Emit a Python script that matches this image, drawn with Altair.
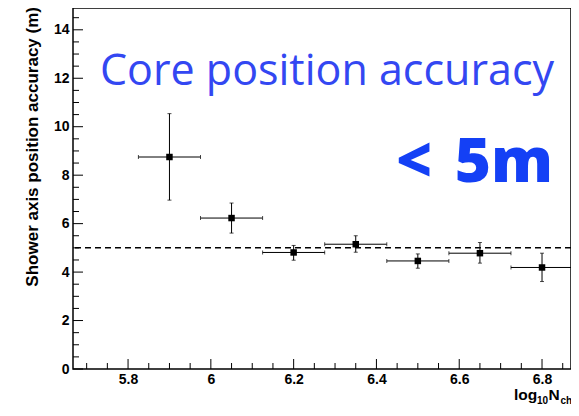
import altair as alt
import pandas as pd

# ---- data ----
log_nch = [5.9, 6.05, 6.2, 6.35, 6.5, 6.65, 6.8]
accuracy = [8.75, 6.23, 4.81, 5.15, 4.46, 4.78, 4.19]
acc_hi = [10.54, 6.85, 5.10, 5.50, 4.75, 5.22, 4.78]
acc_lo = [6.97, 5.61, 4.49, 4.82, 4.16, 4.37, 3.61]
bin_half = [0.075, 0.075, 0.075, 0.075, 0.075, 0.075, 0.075]
limit_value = [5.0]

x_major = [5.8, 6.0, 6.2, 6.4, 6.6, 6.8]
x_minor = [5.70, 5.75, 5.85, 5.90, 5.95, 6.05, 6.10, 6.15, 6.25, 6.30, 6.35,
           6.45, 6.50, 6.55, 6.65, 6.70, 6.75, 6.85]
y_major = [0, 2, 4, 6, 8, 10, 12, 14]
y_minor = [0.5, 1, 1.5, 2.5, 3, 3.5, 4.5, 5, 5.5, 6.5, 7, 7.5, 8.5, 9, 9.5,
           10.5, 11, 11.5, 12.5, 13, 13.5, 14.5]

W, H = 498, 361
XDOM = [5.667, 6.870]
YDOM = [0, 14.9]

df = pd.DataFrame({
    "x": log_nch, "y": accuracy, "hi": acc_hi, "lo": acc_lo,
    "xl": [a - b for a, b in zip(log_nch, bin_half)],
    "xr": [a + b for a, b in zip(log_nch, bin_half)],
})

xs = alt.Scale(domain=XDOM, nice=False, zero=False)
ys = alt.Scale(domain=YDOM, nice=False, zero=False)

AX = alt.Axis(values=x_major, format="~g", ticks=False, domain=False, grid=False,
              title=None, labelFont="Liberation Sans", labelFontWeight="bold",
              labelFontSize=14, labelPadding=3, labelColor="black")
AY = alt.Axis(values=y_major, format="d", ticks=False, domain=False, grid=False,
              title=None, labelFont="Liberation Sans", labelFontWeight="bold",
              labelFontSize=14, labelPadding=4, labelColor="black")


def X(field):
    return alt.X(field, scale=xs, axis=AX, title=None)


def Y(field):
    return alt.Y(field, scale=ys, axis=AY, title=None)


base = alt.Chart(df)

dash = alt.Chart(pd.DataFrame({"v": limit_value})).mark_rule(
    color="black", strokeDash=[6, 4], strokeWidth=1.5
).encode(y=Y("v:Q"))

vbar = base.mark_rule(color="black", strokeWidth=1).encode(
    x=X("x:Q"), y=Y("lo:Q"), y2="hi:Q")
hbar = base.mark_rule(color="black", strokeWidth=1, clip=True).encode(
    y=Y("y:Q"), x=X("xl:Q"), x2="xr:Q")
cap_hi = base.mark_tick(color="black", size=4, thickness=1, orient="horizontal").encode(
    x=X("x:Q"), y=Y("hi:Q"))
cap_lo = base.mark_tick(color="black", size=4, thickness=1, orient="horizontal").encode(
    x=X("x:Q"), y=Y("lo:Q"))
cap_l = base.mark_tick(color="black", size=4, thickness=1, orient="vertical", clip=True).encode(
    x=X("xl:Q"), y=Y("y:Q"))
cap_r = base.mark_tick(color="black", size=4, thickness=1, orient="vertical", clip=True).encode(
    x=X("xr:Q"), y=Y("y:Q"))
pts = base.mark_square(color="black", size=42, opacity=1).encode(
    x=X("x:Q"), y=Y("y:Q"))


# inward ticks
def yticks(vals, length):
    return alt.Chart(pd.DataFrame({"v": vals})).mark_rule(color="black", strokeWidth=1).encode(
        y=Y("v:Q"), x=alt.value(0), x2=alt.value(length))


def xticks(vals, length):
    return alt.Chart(pd.DataFrame({"v": vals})).mark_rule(color="black", strokeWidth=1).encode(
        x=X("v:Q"), y=alt.value(H), y2=alt.value(H - length))


one = pd.DataFrame({"a": [0]})


def label(text, x, y, size, color="black", font="Liberation Sans", weight="bold",
          align="left", angle=0, baseline="alphabetic"):
    return alt.Chart(one).mark_text(
        text=text, font=font, fontSize=size, fontWeight=weight, color=color,
        align=align, baseline=baseline, angle=angle
    ).encode(x=alt.value(x), y=alt.value(y))


texts = [
    label("Core position accuracy", 27, 77, 43, color="#3347f2", font="Open Sans", weight="normal"),
    label("<", 323, 174, 62, color="#1440f5", font="Open Sans", weight=800),
    label("5m", 480, 174, 62, color="#1440f5", font="Open Sans", weight=800, align="right"),
    label("Shower axis position accuracy (m)", -40, -1, 17, angle=270, align="right",
          baseline="middle"),
    label("log", 441, 392, 15.5),
    label("10", 464, 396, 10),
    label("N", 475.5, 392, 15.5),
    label("ch", 487.5, 396, 10),
]

chart = alt.layer(
    dash, vbar, hbar, cap_hi, cap_lo, cap_l, cap_r, pts,
    yticks(y_major, 10), yticks(y_minor, 6), xticks(x_major, 10), xticks(x_minor, 6),
    *texts
).properties(
    width=W, height=H,
    autosize=alt.AutoSizeParams(type="none"),
    padding={"left": 65, "top": 0, "right": 0, "bottom": 39},
    background="white",
).configure_view(stroke="black", strokeWidth=1.5)

chart.save("out.html", embed_options={"renderer": "svg", "actions": False})
